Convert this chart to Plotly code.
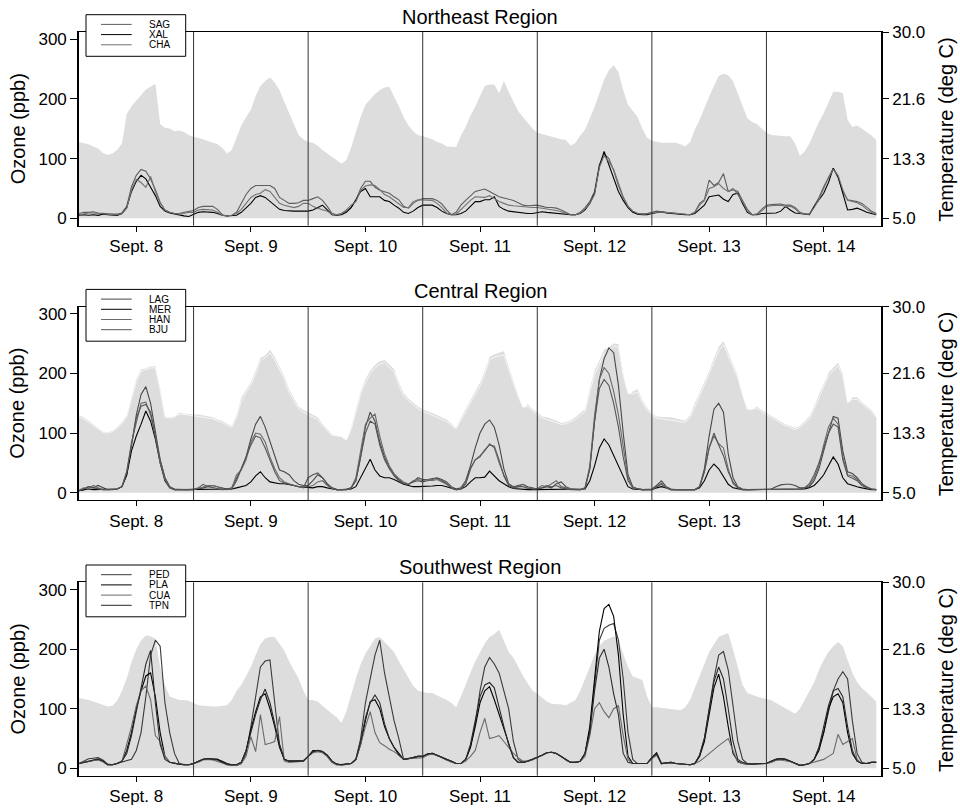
import plotly.graph_objects as go

# ---------------- data ----------------
HOURS = list(range(168))                      # hourly, Sept 8 00h .. Sept 14 23h
DAY_LABELS = ["Sept. 8", "Sept. 9", "Sept. 10", "Sept. 11", "Sept. 12", "Sept. 13", "Sept. 14"]
DAY_TICKS = [12, 36, 60, 84, 108, 132, 156]
DAY_BOUNDS = [24, 48, 72, 96, 120, 144]
OZONE_TICKS = [0, 100, 200, 300]
TEMP_TICKS = [5.0, 13.3, 21.6, 30.9]
TEMP_TICK_LABELS = ["5.0", "13.3", "21.6", "30.0"]
TEMP_BASE = 5.0

NE_TEMP = [
    15.6, 15.5, 15.3, 15.0, 14.7, 14.1, 13.8, 14.0, 14.5, 15.4, 19.5, 20.6, 21.4, 22.1, 22.9, 23.3, 23.7, 18.1, 17.6, 17.5, 17.1, 17.2, 17.0, 16.6,
    16.3, 16.2, 16.0, 15.8, 15.6, 15.3, 14.8, 14.0, 14.5, 16.2, 17.9, 19.1, 20.1, 22.0, 23.4, 24.1, 24.6, 23.9, 22.8, 21.2, 19.6, 18.1, 16.6, 16.0,
    15.6, 15.5, 15.1, 14.5, 14.0, 13.5, 13.0, 12.6, 13.1, 14.8, 17.0, 19.1, 20.8, 21.6, 22.3, 22.8, 23.2, 23.3, 22.0, 20.6, 19.1, 17.9, 17.1, 16.6,
    16.4, 16.2, 16.0, 15.6, 15.4, 15.0, 14.9, 14.9, 16.5, 17.7, 19.3, 20.5, 22.0, 23.4, 23.6, 23.6, 22.4, 24.1, 22.6, 21.3, 19.9, 19.1, 18.3, 17.5,
    16.9, 16.7, 16.5, 16.4, 16.2, 16.0, 15.9, 15.1, 15.5, 16.5, 17.3, 18.9, 20.5, 22.4, 24.3, 25.6, 26.3, 25.3, 22.8, 20.8, 19.9, 19.1, 17.5, 16.2,
    15.8, 15.6, 15.5, 15.5, 15.5, 15.5, 15.3, 15.0, 15.6, 17.3, 18.7, 20.4, 21.9, 23.4, 24.8, 25.1, 24.9, 24.1, 22.3, 20.4, 18.9, 18.4, 18.1, 17.5,
    16.9, 16.6, 16.5, 16.4, 16.4, 16.4, 15.4, 13.7, 14.3, 15.4, 17.0, 18.4, 19.6, 21.2, 22.6, 22.6, 22.4, 18.7, 17.7, 17.9, 17.5, 17.0, 16.5, 15.9,
]
NE_SAG = [
    8, 10, 10, 11, 9, 8, 8, 7, 7, 9, 20, 53, 72, 82, 79, 66, 48, 27, 14, 10, 8, 8, 10, 12,
    13, 18, 20, 20, 20, 15, 6, 4, 5, 10, 25, 40, 50, 55, 55, 55, 55, 50, 35, 30, 25, 25, 26, 30,
    30, 33, 36, 30, 20, 8, 6, 8, 12, 18, 30, 50, 62, 62, 52, 47, 44, 42, 36, 31, 20, 17, 25, 30,
    33, 33, 33, 30, 24, 14, 6, 10, 22, 30, 38, 45, 47, 49, 45, 40, 36, 34, 32, 30, 26, 22, 21, 22,
    22, 20, 18, 18, 17, 14, 10, 6, 6, 10, 18, 28, 45, 90, 108, 100, 80, 55, 35, 20, 12, 8, 8, 8,
    10, 12, 11, 10, 10, 9, 8, 6, 6, 10, 25, 31, 64, 55, 60, 75, 45, 48, 45, 30, 15, 6, 7, 15,
    22, 23, 24, 24, 22, 22, 18, 10, 7, 7, 20, 35, 53, 70, 84, 68, 45, 31, 30, 28, 25, 18, 12, 8,
]
NE_XAL = [
    5, 6, 5, 6, 5, 7, 6, 5, 5, 8, 18, 45, 62, 72, 66, 52, 38, 20, 12, 9, 7, 6, 4, 3,
    6, 10, 11, 11, 10, 8, 5, 4, 4, 5, 10, 18, 25, 35, 38, 35, 28, 22, 15, 13, 12, 12, 12, 12,
    12, 14, 18, 22, 14, 6, 5, 6, 10, 18, 31, 45, 50, 36, 36, 36, 30, 28, 22, 17, 10, 8, 12, 18,
    22, 22, 22, 18, 12, 8, 6, 6, 8, 12, 20, 28, 28, 31, 31, 36, 20, 15, 12, 11, 9, 8, 8, 8,
    9, 11, 10, 9, 8, 8, 7, 6, 6, 8, 14, 25, 42, 87, 112, 90, 70, 45, 30, 18, 10, 7, 6, 6,
    8, 10, 11, 9, 8, 8, 7, 6, 6, 8, 15, 22, 36, 38, 39, 32, 28, 40, 42, 25, 10, 6, 6, 8,
    8, 8, 9, 12, 20, 14, 9, 8, 7, 6, 20, 30, 42, 60, 84, 70, 42, 14, 15, 17, 14, 10, 8, 6,
]
NE_CHA = [
    6, 8, 9, 9, 8, 7, 7, 6, 6, 8, 17, 48, 65, 60, 52, 70, 45, 25, 14, 10, 8, 7, 8, 10,
    10, 14, 15, 15, 14, 10, 5, 4, 5, 8, 15, 25, 35, 40, 42, 48, 45, 35, 25, 22, 20, 18, 20, 25,
    25, 20, 17, 15, 12, 7, 6, 8, 14, 22, 28, 47, 54, 56, 55, 48, 40, 36, 30, 25, 18, 18, 28, 31,
    31, 31, 30, 25, 18, 9, 6, 7, 15, 22, 30, 36, 36, 35, 38, 33, 28, 25, 22, 21, 20, 20, 19, 18,
    18, 17, 16, 15, 13, 11, 8, 6, 6, 9, 16, 25, 40, 85, 105, 95, 82, 60, 36, 20, 12, 8, 7, 8,
    9, 11, 11, 10, 9, 8, 7, 6, 6, 10, 22, 30, 50, 53, 58, 50, 45, 50, 40, 28, 12, 6, 7, 12,
    20, 21, 22, 22, 20, 20, 16, 9, 7, 7, 18, 32, 50, 68, 82, 72, 48, 30, 28, 26, 22, 15, 10, 7,
]

C_TEMP_A = [
    15.8, 15.5, 15.0, 14.5, 14.0, 13.5, 13.4, 13.6, 14.1, 14.8, 15.8, 18.3, 20.8, 22.2, 22.3, 22.6, 22.6, 19.5, 15.6, 15.5, 15.6, 16.1, 16.0, 15.9,
    15.9, 15.9, 15.8, 15.6, 15.5, 15.2, 15.0, 14.6, 14.3, 15.8, 18.3, 19.3, 20.4, 22.0, 23.8, 24.1, 24.9, 23.9, 22.6, 21.2, 19.4, 18.1, 17.0, 16.5,
    16.2, 15.8, 15.5, 14.6, 13.8, 13.1, 12.6, 11.6, 12.0, 14.1, 16.6, 19.1, 20.8, 22.0, 22.8, 23.3, 23.5, 22.8, 22.2, 20.4, 18.9, 18.1, 17.5, 17.0,
    16.6, 16.4, 16.1, 15.8, 15.5, 15.2, 14.6, 14.0, 15.4, 16.6, 17.9, 19.1, 20.3, 22.0, 23.9, 24.3, 24.5, 24.7, 22.6, 20.5, 18.7, 16.6, 17.3, 16.6,
    16.2, 15.6, 15.5, 15.3, 15.0, 14.7, 14.8, 15.1, 15.5, 16.1, 16.6, 19.5, 22.0, 23.4, 24.9, 25.3, 25.8, 25.7, 21.6, 18.4, 19.1, 19.4, 17.9, 16.8,
    16.0, 15.6, 15.5, 15.5, 15.5, 15.3, 15.1, 15.0, 15.8, 17.5, 18.9, 20.4, 22.0, 23.7, 25.3, 26.1, 24.5, 22.8, 21.3, 18.3, 16.6, 16.6, 17.0, 16.5,
    16.1, 15.8, 15.4, 15.0, 14.5, 14.3, 14.0, 14.3, 15.0, 15.6, 17.0, 18.7, 20.1, 21.7, 22.4, 23.1, 21.6, 17.3, 18.3, 18.3, 17.6, 17.0, 16.5, 15.6,
]
C_TEMP_B = [
    15.6, 15.3, 14.8, 14.3, 13.8, 13.4, 13.3, 13.5, 14.0, 14.6, 15.6, 18.0, 20.5, 21.9, 22.1, 22.4, 22.4, 19.3, 15.5, 15.4, 15.5, 15.9, 15.9, 15.8,
    15.8, 15.7, 15.6, 15.4, 15.3, 15.0, 14.8, 14.4, 14.1, 15.5, 17.8, 19.0, 20.0, 21.6, 23.4, 23.8, 24.5, 23.5, 22.2, 20.8, 19.0, 17.8, 16.7, 16.2,
    15.9, 15.5, 15.2, 14.4, 13.6, 13.0, 12.9, 12.8, 12.3, 13.8, 16.2, 18.7, 20.4, 21.6, 22.4, 22.9, 23.1, 22.5, 21.8, 20.0, 18.5, 17.8, 17.2, 16.7,
    16.3, 16.1, 15.8, 15.5, 15.2, 14.9, 14.4, 13.9, 15.1, 16.3, 17.5, 18.7, 19.9, 21.6, 23.5, 23.9, 24.1, 24.2, 22.2, 20.2, 18.4, 16.9, 17.0, 16.4,
    15.9, 15.4, 15.2, 15.0, 14.8, 14.5, 14.6, 14.9, 15.2, 15.8, 16.3, 19.0, 21.5, 22.9, 24.4, 24.9, 25.4, 25.3, 21.3, 18.8, 18.8, 19.0, 17.6, 16.5,
    15.8, 15.4, 15.3, 15.2, 15.2, 15.0, 14.9, 14.8, 15.5, 17.1, 18.5, 20.0, 21.6, 23.2, 24.8, 25.6, 24.1, 22.5, 21.0, 18.6, 16.6, 16.6, 16.8, 16.3,
    15.9, 15.5, 15.1, 14.7, 14.3, 14.1, 13.8, 14.1, 14.7, 15.3, 16.7, 18.3, 19.7, 21.3, 22.0, 22.7, 21.3, 17.5, 18.0, 18.0, 17.4, 16.8, 16.3, 15.5,
]
C_LAG = [
    3, 5, 10, 8, 12, 8, 5, 5, 6, 10, 30, 80, 130, 165, 178, 150, 100, 55, 25, 10, 6, 5, 5, 5,
    5, 6, 8, 10, 12, 10, 8, 6, 8, 25, 40, 60, 90, 115, 128, 110, 85, 60, 38, 35, 30, 20, 14, 12,
    12, 20, 30, 25, 15, 8, 5, 5, 5, 8, 20, 60, 110, 135, 120, 85, 60, 42, 30, 22, 16, 14, 18, 25,
    22, 22, 24, 25, 22, 18, 10, 6, 8, 20, 45, 75, 100, 115, 122, 110, 80, 40, 15, 10, 12, 14, 10, 8,
    6, 8, 10, 8, 15, 18, 10, 6, 5, 5, 8, 40, 120, 190, 225, 243, 235, 180, 100, 30, 10, 6, 5, 5,
    6, 12, 20, 10, 6, 5, 5, 5, 5, 5, 10, 40, 95, 140, 150, 135, 65, 25, 10, 6, 5, 5, 5, 5,
    5, 6, 10, 13, 14, 14, 12, 8, 8, 10, 20, 40, 70, 100, 128, 125, 70, 35, 32, 25, 15, 10, 6, 5,
]
C_MER = [
    3, 4, 6, 5, 5, 5, 5, 5, 6, 10, 30, 70, 95, 115, 137, 120, 90, 50, 20, 8, 5, 5, 5, 5,
    5, 5, 5, 5, 6, 5, 5, 5, 6, 8, 10, 12, 18, 28, 35, 25, 18, 16, 15, 15, 14, 12, 10, 9,
    8, 8, 10, 10, 8, 6, 5, 5, 5, 6, 10, 25, 40, 56, 38, 28, 25, 25, 22, 18, 14, 12, 10, 10,
    10, 11, 11, 12, 12, 10, 7, 5, 6, 10, 18, 25, 25, 26, 36, 28, 20, 15, 10, 7, 6, 6, 5, 5,
    5, 5, 6, 6, 6, 6, 5, 5, 5, 5, 6, 20, 45, 75, 90, 80, 62, 45, 25, 10, 6, 5, 5, 5,
    5, 8, 10, 8, 5, 5, 5, 5, 5, 5, 8, 20, 38, 48, 40, 28, 14, 8, 6, 5, 5, 5, 5, 5,
    5, 5, 5, 6, 6, 6, 5, 5, 6, 8, 12, 20, 30, 45, 60, 48, 25, 15, 12, 10, 8, 6, 5, 5,
]
C_HAN = [
    4, 8, 6, 12, 8, 5, 5, 5, 6, 10, 35, 85, 120, 150, 152, 130, 95, 50, 22, 8, 5, 5, 5, 5,
    5, 7, 10, 12, 12, 10, 6, 5, 7, 30, 38, 55, 85, 100, 98, 85, 60, 40, 25, 18, 15, 12, 10, 10,
    10, 12, 18, 20, 12, 7, 5, 5, 5, 8, 25, 70, 115, 125, 132, 95, 65, 45, 32, 24, 18, 14, 20, 22,
    20, 22, 20, 22, 18, 14, 8, 5, 6, 15, 40, 55, 62, 70, 82, 75, 50, 30, 14, 8, 10, 14, 8, 6,
    7, 12, 10, 15, 20, 10, 8, 6, 5, 5, 8, 45, 130, 190, 210, 200, 170, 130, 80, 25, 8, 6, 5, 5,
    5, 10, 16, 8, 5, 5, 5, 5, 5, 5, 10, 35, 75, 95, 82, 75, 40, 15, 8, 5, 5, 5, 5, 5,
    5, 5, 6, 6, 6, 6, 5, 6, 8, 12, 25, 45, 80, 110, 125, 115, 60, 30, 28, 22, 14, 8, 6, 5,
]
C_BJU = [
    3, 6, 10, 8, 6, 5, 5, 5, 6, 10, 35, 80, 125, 145, 148, 135, 95, 55, 25, 10, 5, 5, 5, 5,
    5, 8, 14, 10, 9, 7, 5, 5, 6, 20, 40, 60, 80, 95, 92, 75, 55, 35, 20, 16, 14, 12, 10, 8,
    25, 30, 33, 25, 14, 8, 5, 5, 5, 8, 20, 60, 100, 120, 115, 80, 55, 40, 28, 20, 15, 14, 18, 20,
    18, 20, 22, 24, 20, 15, 8, 5, 6, 15, 40, 55, 60, 72, 80, 78, 55, 28, 12, 8, 10, 10, 7, 6,
    6, 8, 12, 10, 12, 8, 6, 5, 5, 5, 7, 40, 120, 175, 190, 180, 150, 110, 60, 20, 8, 6, 5, 5,
    5, 10, 14, 8, 5, 5, 5, 5, 5, 5, 10, 35, 75, 100, 80, 62, 35, 18, 8, 5, 5, 5, 5, 5,
    5, 5, 6, 6, 6, 6, 5, 6, 8, 15, 30, 50, 75, 100, 115, 110, 55, 28, 24, 20, 12, 8, 6, 5,
]

SW_TEMP = [
    14.8, 14.7, 14.5, 14.3, 14.1, 13.9, 13.6, 13.7, 14.4, 15.8, 17.5, 19.8, 21.6, 22.8, 23.5, 23.4, 23.1, 19.1, 16.6, 15.0, 14.7, 14.5, 14.5, 14.4,
    14.1, 13.8, 13.7, 13.6, 13.6, 13.6, 13.7, 13.8, 14.5, 15.8, 16.6, 17.9, 19.1, 20.8, 22.3, 23.1, 23.3, 23.3, 22.4, 21.4, 19.9, 18.7, 17.5, 15.8,
    14.5, 14.5, 14.3, 13.7, 13.1, 12.6, 12.1, 11.3, 12.9, 15.4, 17.5, 19.5, 21.0, 22.0, 23.1, 23.3, 22.6, 22.0, 21.2, 19.9, 18.7, 17.5, 16.5, 15.8,
    15.6, 15.5, 15.5, 15.2, 14.8, 14.5, 14.1, 13.5, 15.0, 16.8, 18.3, 19.9, 21.2, 22.4, 23.3, 23.7, 24.3, 22.8, 21.2, 20.4, 19.1, 17.9, 16.8, 15.8,
    15.4, 14.8, 14.3, 14.0, 14.0, 13.9, 13.8, 14.1, 14.5, 15.8, 17.5, 19.3, 20.8, 22.0, 22.8, 23.1, 23.4, 22.8, 20.8, 19.1, 17.8, 17.5, 17.3, 15.0,
    13.5, 13.5, 13.4, 13.4, 13.3, 13.2, 13.1, 13.5, 14.5, 16.2, 17.8, 19.5, 21.2, 22.3, 23.3, 23.6, 23.8, 21.6, 19.1, 16.6, 15.5, 15.2, 15.0, 14.8,
    14.7, 14.5, 14.1, 13.7, 13.3, 13.0, 12.6, 13.3, 14.5, 15.6, 17.0, 18.7, 20.1, 21.2, 22.0, 22.6, 22.0, 20.1, 18.3, 17.0, 16.2, 15.6, 15.0, 14.3,
]
SW_PED = [
    8, 12, 16, 17, 18, 14, 7, 6, 8, 10, 12, 15, 30, 60, 120, 190, 215, 205, 110, 60, 25, 8, 6, 6,
    8, 12, 15, 16, 16, 15, 10, 6, 5, 5, 8, 25, 70, 120, 170, 180, 182, 110, 40, 15, 12, 12, 12, 13,
    20, 28, 30, 28, 20, 10, 6, 6, 7, 8, 15, 50, 110, 150, 190, 215, 160, 120, 80, 50, 15, 16, 18, 20,
    20, 24, 25, 22, 18, 14, 12, 8, 8, 15, 35, 75, 130, 170, 186, 175, 160, 130, 100, 45, 15, 10, 12, 15,
    18, 22, 26, 27, 25, 20, 14, 10, 10, 12, 25, 65, 140, 215, 235, 240, 243, 215, 150, 60, 15, 8, 8, 8,
    18, 24, 8, 9, 10, 8, 7, 6, 6, 8, 22, 50, 100, 150, 190, 196, 165, 100, 45, 15, 8, 7, 8, 8,
    8, 12, 15, 16, 15, 12, 8, 5, 6, 8, 15, 35, 60, 95, 130, 150, 162, 150, 80, 25, 10, 8, 10, 10,
]
SW_PLA = [
    8, 10, 12, 14, 15, 12, 6, 6, 8, 12, 30, 60, 100, 130, 155, 160, 120, 60, 20, 10, 8, 7, 6, 6,
    8, 12, 15, 16, 16, 15, 12, 8, 6, 6, 10, 30, 65, 95, 120, 125, 100, 70, 35, 15, 12, 12, 12, 12,
    20, 30, 30, 28, 22, 12, 7, 6, 7, 8, 15, 40, 80, 112, 115, 100, 70, 50, 35, 25, 15, 16, 18, 20,
    20, 24, 25, 22, 18, 15, 12, 8, 8, 15, 35, 70, 110, 130, 137, 115, 90, 65, 40, 18, 10, 10, 12, 15,
    18, 22, 26, 27, 25, 20, 14, 10, 10, 12, 25, 70, 150, 230, 268, 275, 255, 190, 90, 20, 8, 8, 8, 8,
    18, 26, 8, 9, 10, 8, 7, 6, 6, 8, 20, 45, 90, 135, 158, 120, 70, 25, 12, 8, 7, 7, 8, 8,
    8, 12, 15, 16, 15, 12, 8, 5, 6, 8, 15, 30, 60, 100, 120, 125, 110, 60, 25, 12, 8, 8, 10, 10,
]
SW_CUA = [
    8, 10, 12, 13, 14, 11, 6, 6, 8, 12, 40, 70, 105, 130, 138, 115, 55, 45, 20, 10, 8, 7, 6, 6,
    8, 10, 14, 15, 14, 12, 9, 6, 5, 5, 8, 20, 53, 28, 90, 40, 42, 45, 87, 12, 10, 10, 11, 12,
    20, 26, 28, 26, 20, 10, 6, 5, 6, 8, 15, 40, 70, 95, 60, 43, 38, 32, 28, 22, 16, 16, 17, 18,
    18, 22, 24, 22, 18, 14, 10, 8, 8, 12, 20, 30, 60, 84, 50, 52, 55, 45, 35, 25, 18, 12, 12, 14,
    18, 22, 26, 27, 25, 20, 14, 10, 10, 12, 20, 55, 100, 110, 95, 85, 100, 105, 55, 15, 8, 8, 8, 8,
    16, 22, 8, 9, 9, 8, 7, 6, 6, 8, 12, 18, 25, 32, 38, 44, 50, 30, 10, 8, 7, 7, 8, 8,
    8, 10, 13, 14, 13, 11, 8, 5, 6, 8, 10, 12, 15, 20, 25, 57, 40, 45, 50, 15, 8, 8, 10, 10,
]
SW_TPN = [
    8, 10, 13, 15, 16, 12, 6, 6, 8, 12, 25, 55, 95, 140, 175, 198, 110, 40, 15, 10, 8, 7, 6, 6,
    8, 12, 15, 16, 15, 14, 10, 7, 6, 6, 10, 30, 60, 90, 115, 133, 110, 75, 40, 15, 12, 12, 12, 12,
    20, 28, 30, 28, 22, 12, 7, 6, 7, 8, 15, 45, 85, 110, 123, 110, 75, 50, 35, 22, 15, 16, 18, 20,
    20, 24, 25, 22, 18, 15, 12, 8, 8, 15, 40, 80, 120, 140, 144, 135, 100, 70, 40, 18, 10, 10, 12, 15,
    18, 22, 26, 27, 25, 20, 14, 10, 10, 12, 25, 60, 130, 185, 200, 170, 125, 90, 25, 10, 8, 8, 8, 8,
    18, 24, 8, 9, 10, 8, 7, 6, 6, 8, 22, 50, 100, 145, 170, 150, 100, 45, 15, 10, 8, 7, 8, 8,
    8, 12, 15, 16, 15, 12, 8, 5, 6, 8, 15, 35, 70, 105, 130, 134, 120, 70, 30, 12, 8, 8, 10, 10,
]

PANELS = [
    dict(title="Northeast Region", temps=[NE_TEMP],
         stations=[("SAG", NE_SAG, "#5e5e5e"), ("XAL", NE_XAL, "#000000"), ("CHA", NE_CHA, "#727272")]),
    dict(title="Central Region", temps=[C_TEMP_A, C_TEMP_B],
         stations=[("LAG", C_LAG, "#474747"), ("MER", C_MER, "#000000"), ("HAN", C_HAN, "#6a6a6a"), ("BJU", C_BJU, "#555555")]),
    dict(title="Southwest Region", temps=[SW_TEMP],
         stations=[("PED", SW_PED, "#3a3a3a"), ("PLA", SW_PLA, "#000000"), ("CUA", SW_CUA, "#6a6a6a"), ("TPN", SW_TPN, "#2a2a2a")]),
]

# ---------------- layout geometry (pixels) ----------------
W, H = 960, 808
ML, MR, MT, MB = 79, 79, 32, 32
PW, PH = W - ML - MR, H - MT - MB
PANEL_TOP = [32, 306.7, 582.3]
PANEL_BOT = [225.7, 500, 775.7]
OZ_RANGE = [-12.4, 312.2]
T_RANGE = [TEMP_BASE + 0.083 * OZ_RANGE[0], TEMP_BASE + 0.083 * OZ_RANGE[1]]

FONT = "Liberation Sans, Arial, Helvetica, sans-serif"
GREY = "rgb(221,221,221)"


def px(x):
    return (x - ML) / PW


def py(y):
    return (H - MB - y) / PH


fig = go.Figure()
shapes, annotations = [], []

for i, p in enumerate(PANELS, start=1):
    xa = "x" if i == 1 else f"x{i}"
    ta = "y" if i == 1 else f"y{2 * i - 1}"
    oa = f"y{2 * i}"
    # temperature areas (filled from the 5.0 baseline)
    for k, temp in enumerate(p["temps"]):
        fig.add_trace(go.Scatter(x=HOURS, y=[TEMP_BASE] * len(HOURS), xaxis=xa, yaxis=ta,
                                 mode="lines", line=dict(width=0, color=GREY),
                                 hoverinfo="skip", showlegend=False))
        fig.add_trace(go.Scatter(x=HOURS, y=temp, xaxis=xa, yaxis=ta, mode="lines",
                                 fill="tonexty", fillcolor=GREY,
                                 line=dict(width=0 if k == 0 else 1,
                                           color=GREY if k == 0 else "rgba(246,246,246,1)"),
                                 hoverinfo="skip", showlegend=False))
    # ozone lines
    for name, vals, col in p["stations"]:
        fig.add_trace(go.Scatter(x=HOURS, y=vals, xaxis=xa, yaxis=oa, mode="lines",
                                 name=name, line=dict(color=col, width=1.1),
                                 showlegend=False))

    top, bot = PANEL_TOP[i - 1], PANEL_BOT[i - 1]
    dom = [py(bot), py(top)]
    axis_common = dict(showgrid=False, zeroline=False, showline=True, linecolor="black",
                       ticks="outside", tickcolor="black", automargin=False,
                       tickfont=dict(family=FONT, size=17, color="black"))
    fig.update_layout(**{
        ("xaxis" if i == 1 else f"xaxis{i}"): dict(
            domain=[0, 1], range=[0, 168], anchor=ta, tickvals=DAY_TICKS, ticktext=DAY_LABELS,
            ticklen=5, linewidth=1.3, mirror=True, **axis_common),
        ("yaxis" if i == 1 else f"yaxis{2 * i - 1}"): dict(
            domain=dom, range=T_RANGE, side="right", anchor=xa, tickvals=TEMP_TICKS,
            ticktext=TEMP_TICK_LABELS, ticklen=6, linewidth=1.6, **axis_common),
        f"yaxis{2 * i}": dict(
            domain=dom, range=OZ_RANGE, side="left", anchor=xa, overlaying=ta,
            tickvals=OZONE_TICKS, ticklen=7, linewidth=1.6, **axis_common),
    })

    # day separators
    for b in DAY_BOUNDS:
        shapes.append(dict(type="line", xref=xa, yref=f"{ta} domain", x0=b, x1=b, y0=0, y1=1,
                           line=dict(color="#333333", width=1), layer="above"))

    # panel title
    annotations.append(dict(text=p["title"], xref="paper", yref="paper", x=0.5,
                            y=py(top - 15.5), xanchor="center", yanchor="middle",
                            showarrow=False, font=dict(family=FONT, size=20, color="black")))
    # axis titles
    mid = (top + bot) / 2
    annotations.append(dict(text="Ozone (ppb)", xref="paper", yref="paper", x=px(17.5), y=py(mid),
                            xanchor="center", yanchor="middle", textangle=-90, showarrow=False,
                            font=dict(family=FONT, size=20, color="black")))
    annotations.append(dict(text="Temperature (deg C)", xref="paper", yref="paper", x=px(946),
                            y=py(mid), xanchor="center", yanchor="middle", textangle=-90,
                            showarrow=False, font=dict(family=FONT, size=20, color="black")))

    # hand-drawn legend box
    n = len(p["stations"])
    by0 = top - 17.3
    by1 = by0 + 10.2 * n + 11
    shapes.append(dict(type="rect", xref="paper", yref="paper", x0=px(86), x1=px(185.7),
                       y0=py(by1), y1=py(by0), fillcolor="white",
                       line=dict(color="black", width=1), layer="above"))
    for k, (name, vals, col) in enumerate(p["stations"]):
        ly = by0 + 9.7 + 10.2 * k
        shapes.append(dict(type="line", xref="paper", yref="paper", x0=px(101), x1=px(131.7),
                           y0=py(ly), y1=py(ly), line=dict(color=col, width=1), layer="above"))
        annotations.append(dict(text=name, xref="paper", yref="paper", x=px(146.5), y=py(ly),
                                xanchor="left", yanchor="middle", showarrow=False,
                                font=dict(family=FONT, size=10, color="black")))

fig.update_layout(
    width=W, height=H,
    margin=dict(l=ML, r=MR, t=MT, b=MB, pad=0),
    paper_bgcolor="white", plot_bgcolor="white",
    font=dict(family=FONT, color="black"),
    showlegend=False,
    shapes=shapes, annotations=annotations,
)

fig.write_html("out.html",
               config={"displayModeBar": False},
               post_script="document.body.style.margin='0px';document.body.style.overflow='hidden';")
